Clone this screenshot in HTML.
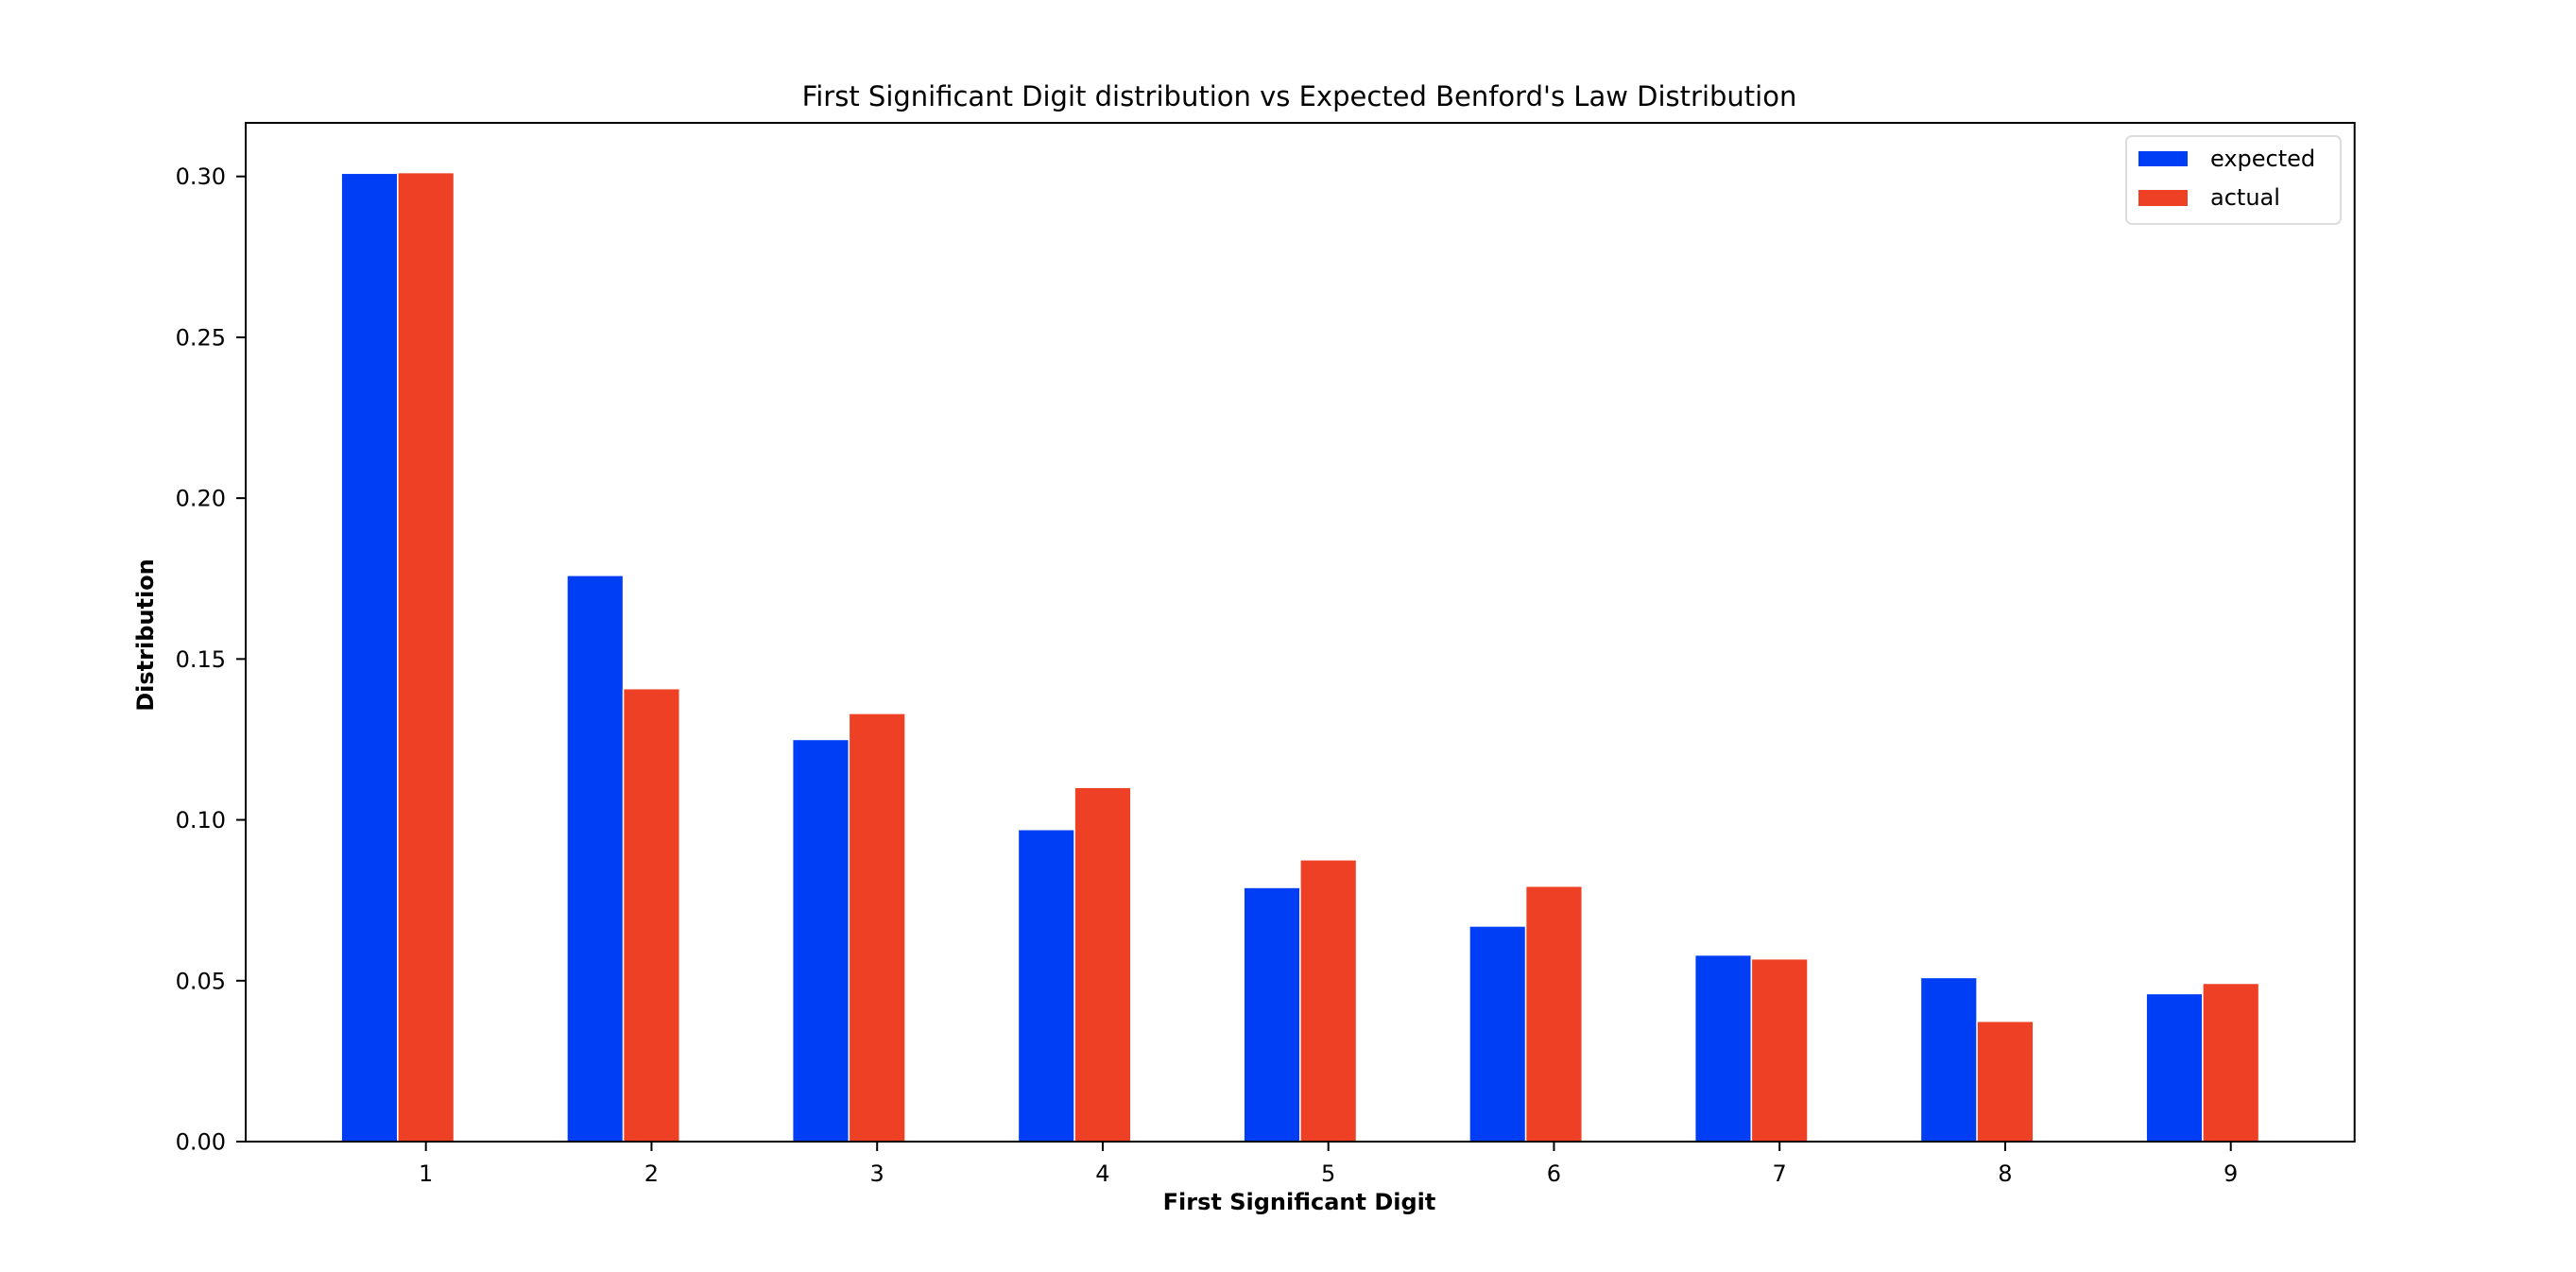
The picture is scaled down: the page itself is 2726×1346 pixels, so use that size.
<!DOCTYPE html>
<html><head><meta charset="utf-8"><style>
html,body{margin:0;padding:0;background:#fff;}
svg{display:block;font-family:"DejaVu Sans","Liberation Sans",sans-serif;}
</style></head><body>
<svg id="chart" width="2726" height="1346" viewBox="0 0 2726 1346" xmlns="http://www.w3.org/2000/svg">
<rect x="0" y="0" width="2726" height="1346" fill="#fff"/>
<text x="1375" y="112" text-anchor="middle" font-size="29" fill="#000">First Significant Digit distribution vs Expected Benford's Law Distribution</text>
<g id="bars"></g>
<g id="axes"></g>
<text x="1375" y="1280" text-anchor="middle" font-size="24" font-weight="bold" fill="#000">First Significant Digit</text>
<text transform="translate(162,672) rotate(-90)" text-anchor="middle" font-size="24" font-weight="bold" fill="#000">Distribution</text>
<g>
<rect x="2250" y="144" width="227" height="93" rx="6" fill="#fff" fill-opacity="0.8" stroke="#dcdcdc" stroke-width="2"/>
<rect x="2263" y="160" width="52" height="16" fill="#003ef5"/>
<text x="2339" y="176" font-size="24" fill="#000">expected</text>
<rect x="2263" y="201" width="52" height="17" fill="#ee4025"/>
<text x="2339" y="217" font-size="24" fill="#000">actual</text>
</g>
</svg>
<script>
const categories = [1, 2, 3, 4, 5, 6, 7, 8, 9];
const expectedValues = [0.301, 0.176, 0.125, 0.097, 0.079, 0.067, 0.058, 0.051, 0.046];
const actualValues = [0.3012, 0.1408, 0.1331, 0.1101, 0.0876, 0.0794, 0.0568, 0.0374, 0.0492];
const yTicks = [0.00, 0.05, 0.10, 0.15, 0.20, 0.25, 0.30];
const yTickLabels = ["0.00", "0.05", "0.10", "0.15", "0.20", "0.25", "0.30"];

const NS = "http://www.w3.org/2000/svg";
const AX = {left: 260, right: 2491.7, top: 130, bottom: 1208};
const X0 = 450.7, XSTEP = 238.75;
const Y_PER = (1208 - 186.7) / 0.30;
function xs(v){ return X0 + (v - 1) * XSTEP; }
function ys(v){ return AX.bottom - v * Y_PER; }
function mk(tag, attrs, parent){
  const e = document.createElementNS(NS, tag);
  for (const k in attrs) e.setAttribute(k, attrs[k]);
  parent.appendChild(e);
  return e;
}
const bars = document.getElementById('bars');
const axes = document.getElementById('axes');
const BW = 0.25 * XSTEP;
categories.forEach((c, i) => {
  const cx = xs(c);
  const b1 = mk('rect', {x: cx - BW - BW/2 + 0.0, y: ys(expectedValues[i]), width: BW, height: AX.bottom - ys(expectedValues[i]), fill: '#003ef5', stroke: '#fff', 'stroke-width': 1.5}, bars);
  
  
  const b2 = mk('rect', {x: cx - BW/2, y: ys(actualValues[i]), width: BW, height: AX.bottom - ys(actualValues[i]), fill: '#ee4025', stroke: '#fff', 'stroke-width': 1.5}, bars);
  
  
  const t = mk('line', {x1: cx, x2: cx, y1: AX.bottom, y2: AX.bottom + 10, stroke: '#000', 'stroke-width': 2}, axes);
  
  
  const l = mk('text', {x: cx, y: AX.bottom + 42, 'text-anchor': 'middle', 'font-size': 24, fill: '#000'}, axes);
  l.textContent = String(c);
  
  
});
yTicks.forEach((v, i) => {
  const y = ys(v);
  const t = mk('line', {x1: AX.left - 10, x2: AX.left, y1: y, y2: y, stroke: '#000', 'stroke-width': 2}, axes);
  
  
  const l = mk('text', {x: 239, y: y + 8.5, 'text-anchor': 'end', 'font-size': 24, fill: '#000'}, axes);
  l.textContent = yTickLabels[i];
  
  
});
const frame = mk('rect', {x: AX.left, y: AX.top, width: AX.right - AX.left, height: AX.bottom - AX.top, fill: 'none', stroke: '#000', 'stroke-width': 2}, axes);


</script>
</body></html>
